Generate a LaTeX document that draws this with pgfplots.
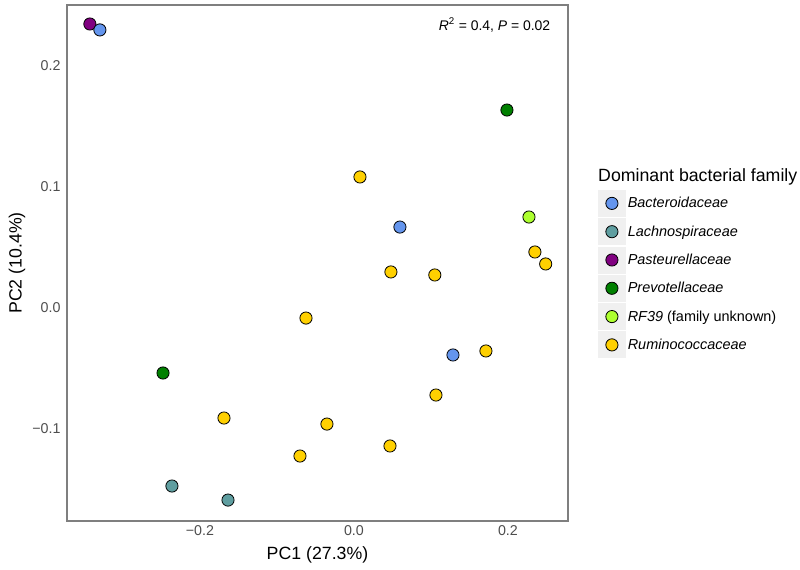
\documentclass[border=0pt]{standalone}
\usepackage{pgfplots}
\pgfplotsset{compat=1.18}
\usepackage{fontspec}
\setmainfont{Liberation Sans}
\definecolor{bactc}{RGB}{100,149,237}
\definecolor{lachc}{RGB}{95,158,160}
\definecolor{pastc}{RGB}{128,0,128}
\definecolor{prevc}{RGB}{0,128,0}
\definecolor{rfc}{RGB}{173,255,47}
\definecolor{rumc}{RGB}{255,208,0}
\definecolor{framec}{RGB}{127,127,127}
\definecolor{tickc}{RGB}{77,77,77}
\begin{document}
\begin{tikzpicture}
\path[use as bounding box] (0,0) rectangle (800bp,570bp);
\begin{axis}[
  at={(67bp,49bp)}, anchor=south west,
  scale only axis, width=501bp, height=516bp,
  xmin=-0.3727, xmax=0.278, ymin=-0.176, ymax=0.2504,
  axis line style={framec, line width=1.6bp},
  major tick length=0pt,
  xtick={-0.2,0,0.2}, xticklabels={−0.2,0.0,0.2},
  ytick={-0.1,0,0.1,0.2}, yticklabels={−0.1,0.0,0.1,0.2},
  tick label style={font=\fontsize{14.3}{16}\selectfont, text=tickc},
  xticklabel style={yshift=-1bp},
  yticklabel style={xshift=-3bp},
  xlabel={PC1 (27.3\%)}, ylabel={PC2 (10.4\%)},
  label style={font=\fontsize{17.8}{20}\selectfont},
  xlabel style={at={(axis description cs:0.5,-0.066)}, anchor=center},
  ylabel style={at={(axis description cs:-0.0998,0.5)}, anchor=center, rotate=0},
  legend style={at={(1.0599,0.6415)}, anchor=north west, draw=none, fill=none,
    inner sep=0pt, outer sep=0pt, row sep=1.5bp,
    font=\fontsize{14.5}{16}\selectfont},
  legend cell align=left,
  legend image code/.code={%
    \fill[black!6] (0bp,-13bp) rectangle (27bp,13bp);
    \draw[mark repeat=2,mark phase=2,#1] plot coordinates {(0bp,0bp) (13.5bp,0bp) (27bp,0bp)};},
  every axis plot/.append style={only marks, mark=*, mark size=6.1bp, line width=0.8bp},
]
\addlegendimage{mark options={draw=black, fill=bactc}}
\addlegendentry{\textit{Bacteroidaceae}}
\addlegendimage{mark options={draw=black, fill=lachc}}
\addlegendentry{\textit{Lachnospiraceae}}
\addlegendimage{mark options={draw=black, fill=pastc}}
\addlegendentry{\textit{Pasteurellaceae}}
\addlegendimage{mark options={draw=black, fill=prevc}}
\addlegendentry{\textit{Prevotellaceae}}
\addlegendimage{mark options={draw=black, fill=rfc}}
\addlegendentry{\textit{RF39} (family unknown)}
\addlegendimage{mark options={draw=black, fill=rumc}}
\addlegendentry{\textit{Ruminococcaceae}}
% Pasteurellaceae
\addplot[forget plot, mark options={draw=black, fill=pastc}] coordinates {(-0.343,0.2347)};
% Bacteroidaceae
\addplot[forget plot, mark options={draw=black, fill=bactc}] coordinates {(-0.330,0.2298) (0.0597,0.0669) (0.1286,-0.0388)};
% Lachnospiraceae
\addplot[forget plot, mark options={draw=black, fill=lachc}] coordinates {(-0.2364,-0.1471) (-0.1636,-0.1587)};
% Prevotellaceae
\addplot[forget plot, mark options={draw=black, fill=prevc}] coordinates {(0.1987,0.1636) (-0.248,-0.0537)};
% RF39
\addplot[forget plot, mark options={draw=black, fill=rfc}] coordinates {(0.2273,0.0752)};
% Ruminococcaceae
\addplot[forget plot, mark options={draw=black, fill=rumc}] coordinates {
 (0.235,0.0463) (0.249,0.0364) (0.0078,0.1083) (0.048,0.0298) (0.105,0.0273)
 (-0.0623,-0.0083) (0.1714,-0.0355) (0.1065,-0.0719) (-0.1688,-0.0909)
 (-0.0351,-0.0959) (-0.0701,-0.1223) (0.0468,-0.114)};
\node[anchor=north east, font=\fontsize{14}{16}\selectfont, inner sep=0pt] at (rel axis cs:0.965,0.975)
  {\textit{R}\textsuperscript{2} = 0.4, \textit{P} = 0.02};
\end{axis}
\node[anchor=west, inner sep=0pt, font=\fontsize{17.8}{20}\selectfont] at (598bp,393bp) {Dominant bacterial family};
\end{tikzpicture}
\end{document}
